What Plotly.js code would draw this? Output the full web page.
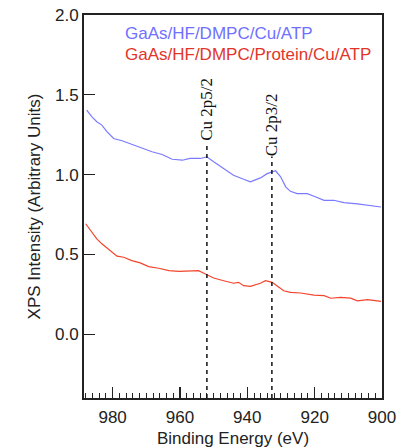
<!DOCTYPE html>
<html>
<head>
<meta charset="utf-8">
<script src="https://cdn.plot.ly/plotly-3.0.1.min.js"></script>
<style>html,body{margin:0;padding:0;background:#fff}#chart{width:399px;height:448px}</style>
</head>
<body>
<div id="chart"></div>
<script>
// Binding energy (eV) and intensity for the two spectra
var blueEnergy = [987.7, 986.2, 984.7, 983.2, 981.7, 979.7, 977.2, 974.3, 971.3, 968.3, 965.3, 962.3, 959.3, 957.0, 954.0, 952.0, 950.0, 947.0, 944.1, 941.1, 939.1, 936.1, 934.1, 931.6, 930.1, 928.6, 927.2, 925.2, 922.2, 920.2, 917.2, 914.3, 911.3, 907.3, 904.3, 900.3];
var blueIntensity = [1.404, 1.363, 1.331, 1.310, 1.269, 1.226, 1.212, 1.189, 1.164, 1.143, 1.126, 1.096, 1.090, 1.101, 1.101, 1.111, 1.080, 1.038, 0.996, 0.971, 0.954, 0.979, 1.006, 1.024, 0.986, 0.923, 0.895, 0.881, 0.881, 0.864, 0.839, 0.839, 0.824, 0.816, 0.807, 0.797];
var redEnergy = [988.0, 986.2, 984.7, 983.2, 981.7, 980.2, 978.7, 976.7, 974.3, 971.8, 969.3, 966.3, 963.3, 960.3, 956.9, 954.5, 953.5, 952.0, 950.0, 947.0, 944.1, 942.6, 941.1, 939.1, 936.1, 934.6, 932.6, 930.6, 929.2, 927.2, 924.2, 920.2, 917.2, 915.2, 912.3, 909.3, 907.3, 904.3, 900.3];
var redIntensity = [0.692, 0.640, 0.597, 0.566, 0.539, 0.514, 0.489, 0.482, 0.461, 0.447, 0.423, 0.413, 0.398, 0.394, 0.394, 0.398, 0.388, 0.371, 0.352, 0.335, 0.319, 0.325, 0.304, 0.300, 0.319, 0.335, 0.325, 0.294, 0.272, 0.262, 0.258, 0.245, 0.241, 0.225, 0.231, 0.226, 0.209, 0.216, 0.206];
var seriesNames = ["GaAs/HF/DMPC/Cu/ATP", "GaAs/HF/DMPC/Protein/Cu/ATP"];
var peakEnergy = [952.0, 932.7];
var peakLabels = ["Cu 2p5/2", "Cu 2p3/2"];
var peakLineTop = [1.195, 1.113];
var peakLabelY = [1.412, 1.314];
var xTickVals = [980, 960, 940, 920, 900];
var yTickVals = [0.0, 0.5, 1.0, 1.5, 2.0];

var blueColor = "#7a7aff";
var redColor = "#f2452c";

var traces = [
  {x: blueEnergy, y: blueIntensity, mode: "lines", line: {color: blueColor, width: 1.2}, name: seriesNames[0]},
  {x: redEnergy, y: redIntensity, mode: "lines", line: {color: redColor, width: 1.2}, name: seriesNames[1]}
];

var shapes = peakEnergy.map(function (e, i) {
  return {type: "line", xref: "x", yref: "y", x0: e, x1: e, y0: -0.4, y1: peakLineTop[i],
          line: {color: "#111", width: 1.5, dash: "4px,4px"}};
});

var annotations = peakEnergy.map(function (e, i) {
  return {x: e, y: peakLabelY[i], xref: "x", yref: "y", text: peakLabels[i], showarrow: false,
          textangle: -90, font: {family: "Liberation Serif", size: 17, color: "#111"}, xanchor: "center", yanchor: "middle"};
});
annotations.push({x: 0.131, y: 0.953, xref: "paper", yref: "paper", text: seriesNames[0], showarrow: false,
  xanchor: "left", yanchor: "middle", font: {family: "Liberation Sans", size: 17, color: "#7070ff"}});
annotations.push({x: 0.131, y: 0.8956, xref: "paper", yref: "paper", text: seriesNames[1], showarrow: false,
  xanchor: "left", yanchor: "middle", font: {family: "Liberation Sans", size: 17, color: "#e2352a"}});

var layout = {
  width: 399, height: 448,
  margin: {l: 84, r: 17, t: 15, b: 50},
  paper_bgcolor: "#fff", plot_bgcolor: "#fff",
  showlegend: false,
  font: {family: "Liberation Sans", size: 17, color: "#222"},
  xaxis: {
    range: [988.5, 900], tickvals: xTickVals, ticks: "inside", ticklen: 11, tickwidth: 1.3, tickcolor: "#222",
    minor: {dtick: 2, ticks: "inside", ticklen: 5, tickwidth: 1, tickcolor: "#222"},
    showgrid: false, zeroline: false, showline: true, linecolor: "#222", linewidth: 2, mirror: true,
    ticklabelstandoff: 3,
    title: {text: "Binding Energy (eV)", font: {size: 17, color: "#222"}, standoff: 6}
  },
  yaxis: {
    range: [-0.4, 2.0], tickvals: yTickVals, tickformat: ".1f", ticks: "inside", ticklen: 11, tickwidth: 1.3, tickcolor: "#222",
    showgrid: false, zeroline: false, showline: true, linecolor: "#222", linewidth: 2, mirror: true,
    title: {text: "XPS Intensity (Arbitrary Units)", font: {size: 17, color: "#222"}, standoff: 10}
  },
  shapes: shapes,
  annotations: annotations
};

Plotly.newPlot("chart", traces, layout, {staticPlot: true, displayModeBar: false});
</script>
</body>
</html>
